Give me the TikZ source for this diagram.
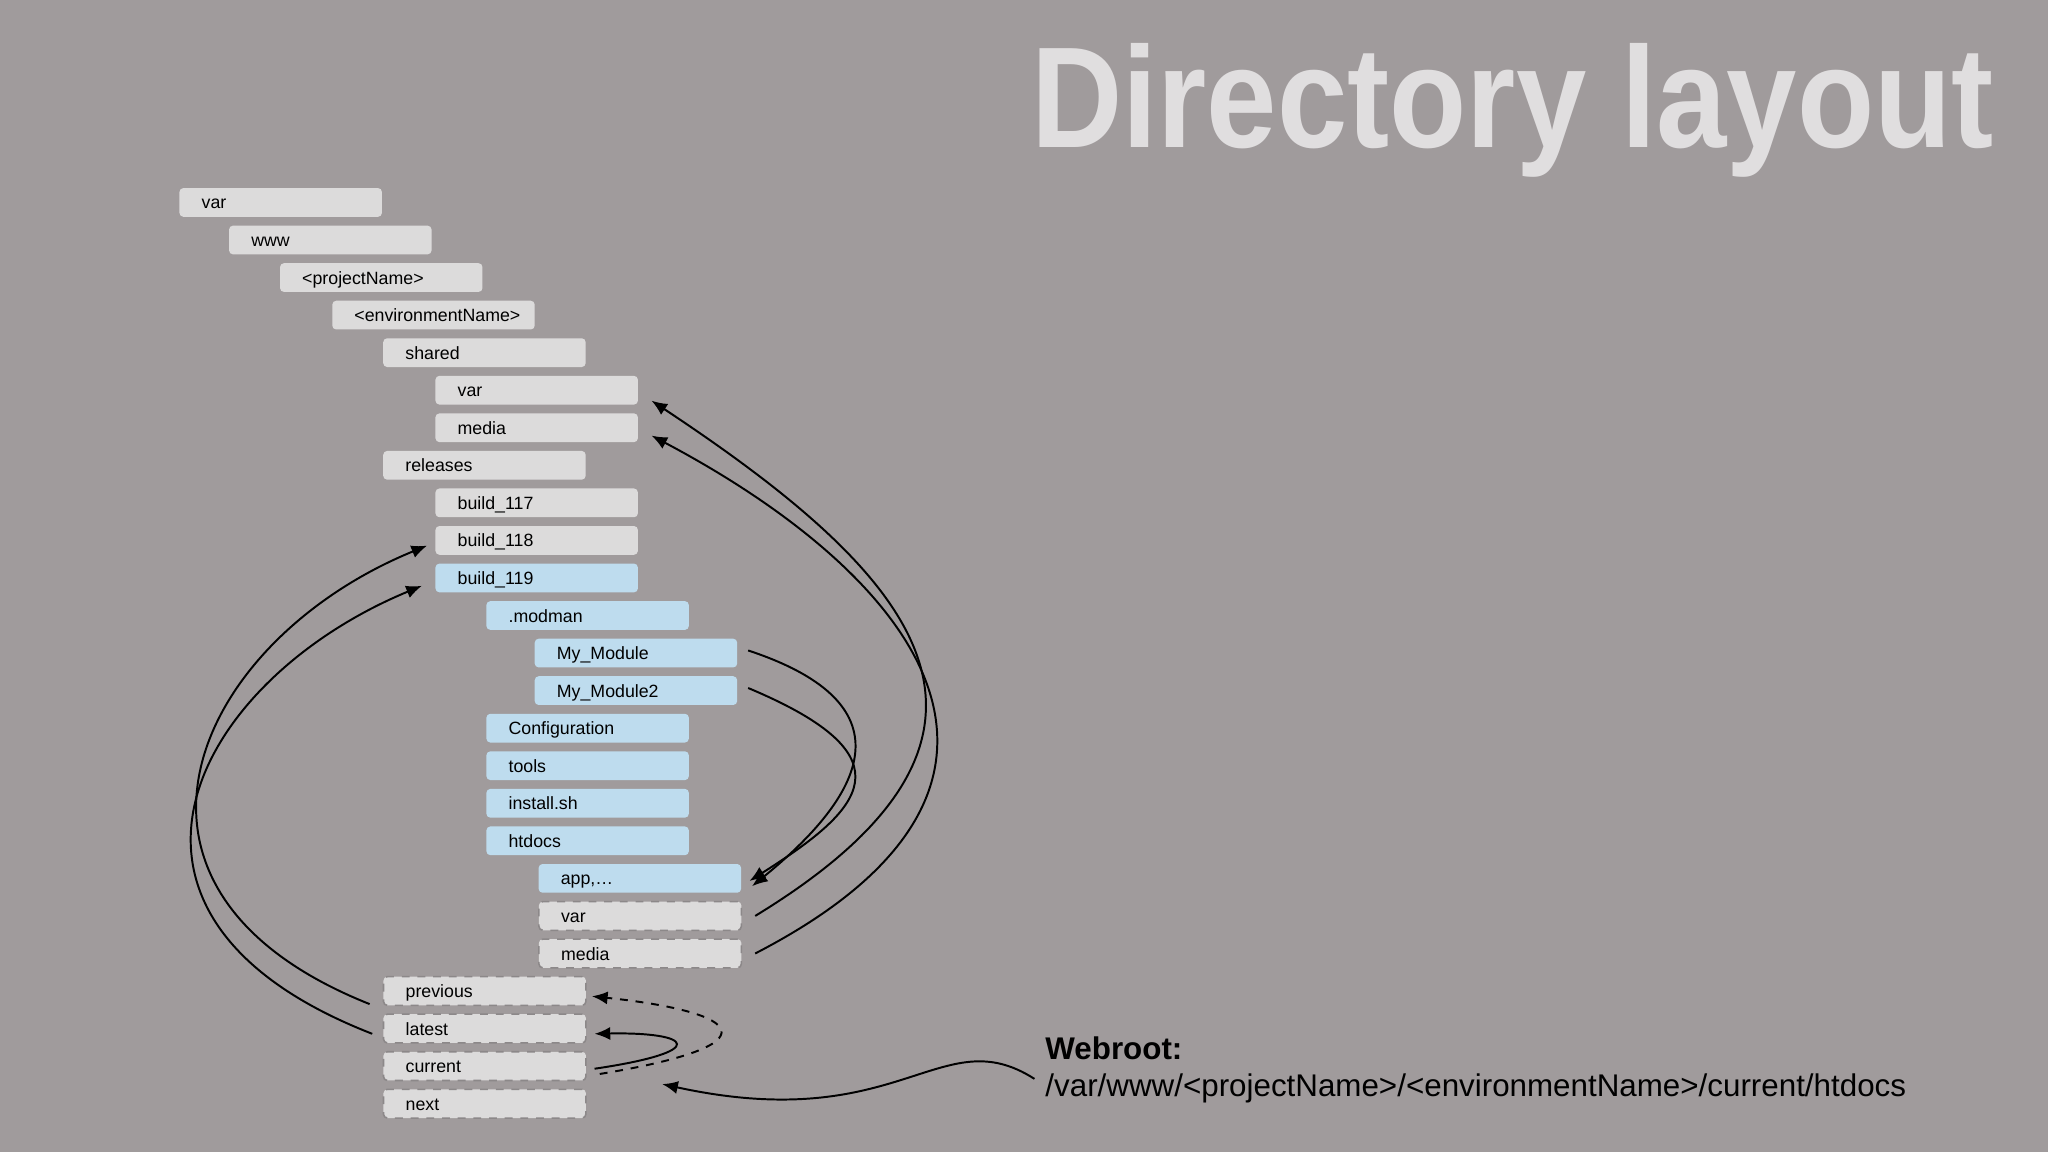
\documentclass[tikz,border=0pt]{standalone}
\usepackage{fontspec}
\setmainfont{Liberation Sans}
\usetikzlibrary{arrows.meta}
\definecolor{bg}{HTML}{A09B9C}
\definecolor{gbox}{HTML}{DCDBDB}
\definecolor{bbox}{HTML}{BEDCEE}
\definecolor{dash}{HTML}{8C8889}
\definecolor{title}{HTML}{E0DEDF}
\tikzset{
 fbox/.style={rectangle,rounded corners=1.5pt,anchor=west,minimum width=77.5pt,minimum height=11pt,
   inner xsep=8.5pt,inner ysep=0pt,text width=60.5pt,text height=5pt,text depth=0pt,align=left,font=\fontsize{6.8}{8}\selectfont},
 gb/.style={fbox,fill=gbox},
 bb/.style={fbox,fill=bbox},
 db/.style={fbox,fill=gbox,draw=dash,dashed,line width=0.6pt},
 arr/.style={line width=0.75pt,-{Latex[length=6pt,width=5pt]}}
}
\begin{document}
\begin{tikzpicture}[x=0.5pt,y=-0.5pt]
\fill[bg] (0,0) rectangle (1568,882);
\useasboundingbox (0,0) rectangle (1568,882);
\node[anchor=base east,text=title,inner sep=0pt,font=\bfseries\fontsize{55}{60}\selectfont] (title) at (1527,113) {\scalebox{0.88}[1]{Directory layout}};
\def\r#1{155+28.75*#1}
\node[gb] (v)   at (137,{\r0}) {var};
\node[gb] (w)   at (175,{\r1}) {www};
\node[gb] (p)   at (214,{\r2}) {<projectName>};
\node[gb] (e)   at (254,{\r3}) {<environmentName>};
\node[gb] (sh)  at (293,{\r4}) {shared};
\node[gb] (sv)  at (333,{\r5}) {var};
\node[gb] (sm)  at (333,{\r6}) {media};
\node[gb] (rel) at (293,{\r7}) {releases};
\node[gb] (b7)  at (333,{\r8}) {build\_117};
\node[gb] (b8)  at (333,{\r9}) {build\_118};
\node[bb] (b9)  at (333,{\r{10}}) {build\_119};
\node[bb] (mm)  at (372,{\r{11}}) {.modman};
\node[bb] (m1)  at (409,{\r{12}}) {My\_Module};
\node[bb] (m2)  at (409,{\r{13}}) {My\_Module2};
\node[bb] (cf)  at (372,{\r{14}}) {Configuration};
\node[bb] (tl)  at (372,{\r{15}}) {tools};
\node[bb] (is)  at (372,{\r{16}}) {install.sh};
\node[bb] (ht)  at (372,{\r{17}}) {htdocs};
\node[bb] (ap)  at (412,{\r{18}}) {app,\ldots};
\node[db] (hv)  at (412,{\r{19}}) {var};
\node[db] (hm)  at (412,{\r{20}}) {media};
\node[db] (pr)  at (293,{\r{21}}) {previous};
\node[db] (la)  at (293,{\r{22}}) {latest};
\node[db] (cu)  at (293,{\r{23}}) {current};
\node[db] (nx)  at (293,{\r{24}}) {next};
\node[anchor=north west,align=left,inner sep=0pt,font=\fontsize{12}{14.5}\selectfont] (wr) at (800,793)
 {\textbf{Webroot:}\\/var/www/<projectName>/<environmentName>/current/htdocs};
\coordinate (ws) at (792,826);
% arrows
\draw[arr] ([xshift=-5pt,yshift=-5pt]pr.west) .. controls (60,680) and (150,490) .. ([xshift=-3pt,yshift=-2pt]b8.west);
\draw[arr] ([xshift=-4pt,yshift=-2pt]la.west) .. controls (50,700) and (150,520) .. ([xshift=-5pt,yshift=-3pt]b9.west);
\draw[arr] ([xshift=4pt,yshift=1pt]m1.east) .. controls (700,540) and (660,610) .. ([xshift=4pt,yshift=-3pt]ap.east);
\draw[arr] ([xshift=4pt,yshift=1pt]m2.east) .. controls (700,580) and (660,620) .. ([xshift=3pt,yshift=-1pt]ap.east);
\draw[arr] ([xshift=5pt]hv.east) .. controls (810,560) and (700,440) .. ([xshift=5pt,yshift=-4pt]sv.east);
\draw[arr] ([xshift=5pt]hm.east) .. controls (830,600) and (700,440) .. ([xshift=5pt,yshift=-3pt]sm.east);
\draw[arr] ([xshift=3pt,yshift=-1pt]cu.east) .. controls (545,805) and (530,790) .. ([xshift=3pt,yshift=-2pt]la.east);
\draw[arr,dashed] ([xshift=5pt,yshift=-3pt]cu.east) .. controls (595,800) and (570,775) .. ([xshift=2pt,yshift=-2pt]pr.east);
\draw[arr] (ws) .. controls (720,780) and (690,870) .. (507,830);
\end{tikzpicture}
\end{document}
